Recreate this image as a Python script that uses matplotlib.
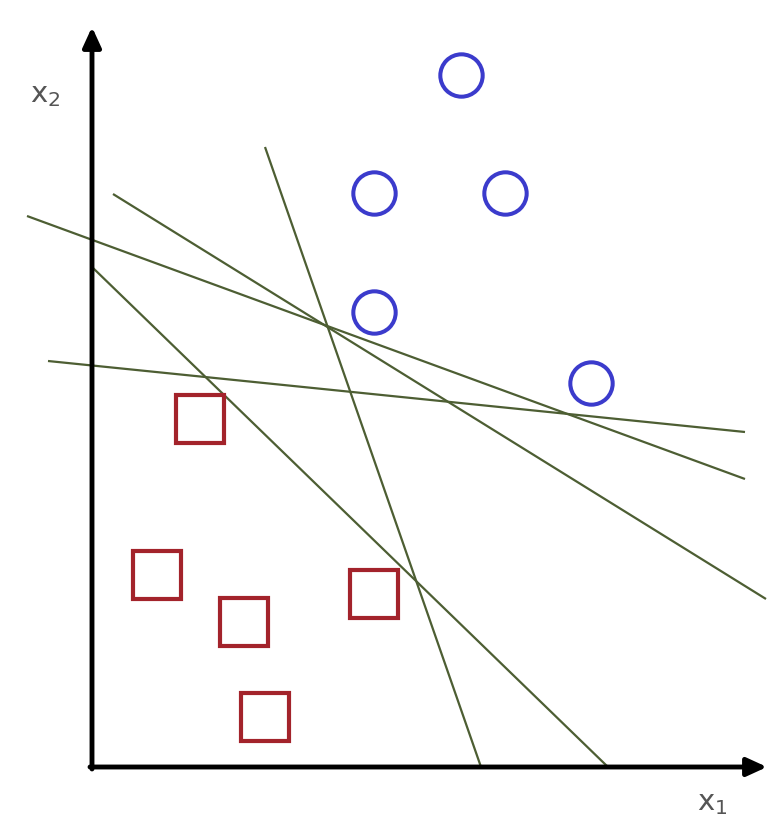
import matplotlib
matplotlib.use("Agg")
import matplotlib.pyplot as plt

# Data (coordinates relative to the axes origin, in picture units)
circle_x = [369, 282, 413, 282, 499]
circle_y = [692, 574, 574, 455, 384]
square_x = [108, 65, 152, 282, 173]
square_y = [348, 192, 145, 173, 50]
# separating lines: start and end points
line_x0 = [173, 21, -65, -44, 0]
line_y0 = [620, 573, 551, 406, 500]
line_x1 = [389, 674, 653, 653, 516]
line_y1 = [0, 168, 288, 335, 0]

fig = plt.figure(figsize=(7.74, 8.28), dpi=100)
ax = fig.add_axes([0, 0, 1, 1])
ax.set_xlim(-92, 682)
ax.set_ylim(-60, 768)
ax.axis('off')

green = '#4d5e33'
for a, b, c, d in zip(line_x0, line_y0, line_x1, line_y1):
    ax.plot([a, c], [b, d], color=green, lw=1.6, solid_capstyle='butt', zorder=2)

# axes arrows
ax.annotate('', xy=(0, 740), xytext=(0, -2),
            arrowprops=dict(arrowstyle='-|>,head_length=1.2,head_width=0.55',
                            color='black', lw=3.5, shrinkA=0, shrinkB=0), zorder=5)
ax.annotate('', xy=(675, 0), xytext=(-2, 0),
            arrowprops=dict(arrowstyle='-|>,head_length=1.2,head_width=0.55',
                            color='black', lw=3.5, shrinkA=0, shrinkB=0), zorder=5)

ax.plot(circle_x, circle_y, 'o', ms=30.5, mfc='none', mec='#3b3bcc', mew=2.9, zorder=4)
ax.plot(square_x, square_y, 's', ms=34, mfc='none', mec='#a3232b', mew=3.0, zorder=4)

ax.text(-47, 673, r'$\mathregular{x_2}$', fontsize=21, color='#555555',
        ha='center', va='center')
ax.text(620, -35, r'$\mathregular{x_1}$', fontsize=21, color='#555555',
        ha='center', va='center')

fig.savefig('out.png', dpi=100)
